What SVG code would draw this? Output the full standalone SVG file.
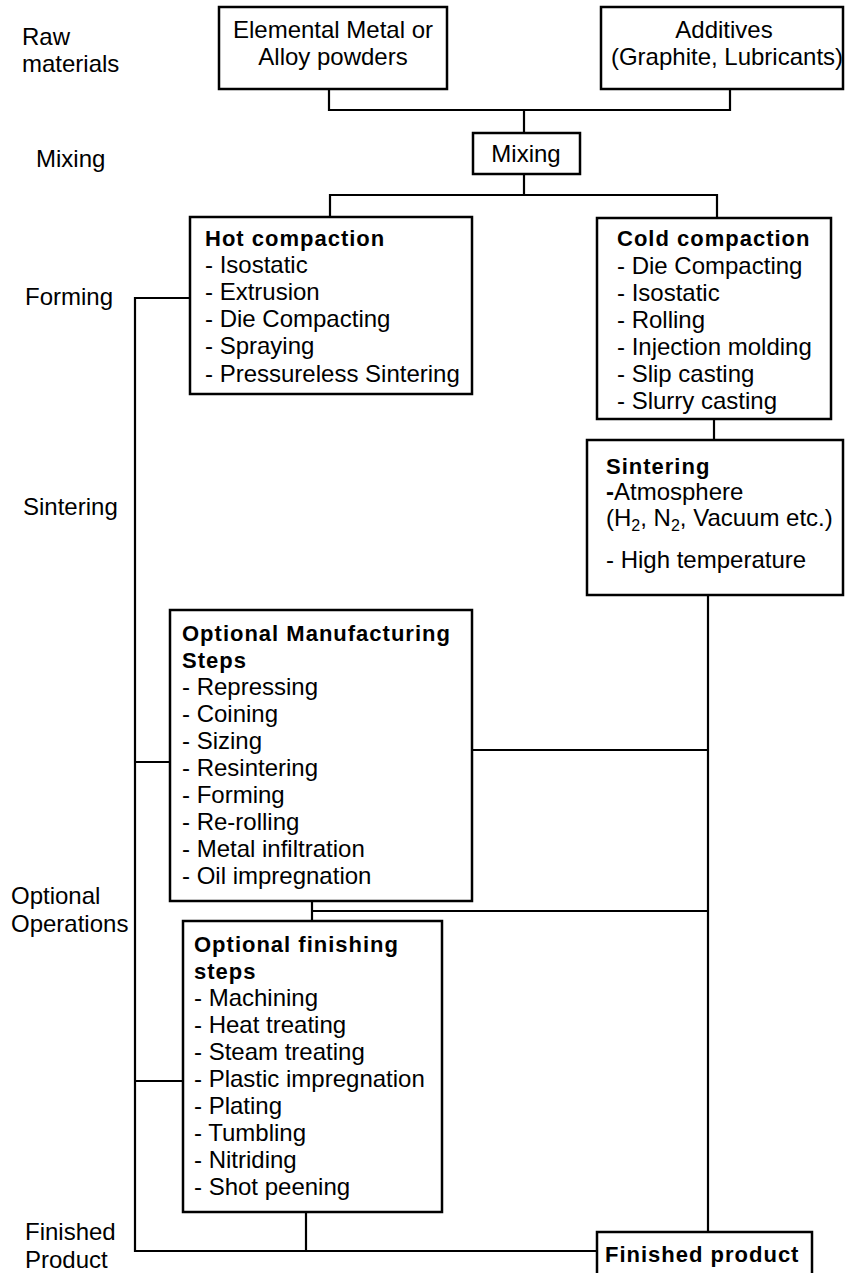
<svg xmlns="http://www.w3.org/2000/svg" width="845" height="1273" viewBox="0 0 845 1273">
<style>
text{font-family:"Liberation Sans",Arial,sans-serif;font-size:24px;fill:#000}
.b{font-weight:bold;font-size:22px;letter-spacing:1px}
.c{text-anchor:middle}
.box{fill:#fff;stroke:#000;stroke-width:2.5}
.ln{fill:none;stroke:#000;stroke-width:2.2}
</style>
<rect width="845" height="1273" fill="#fff"/>
<g id="labels">
<text x="22" y="45">Raw</text>
<text x="22" y="72">materials</text>
<text x="36" y="167">Mixing</text>
<text x="25" y="305">Forming</text>
<text x="23" y="515">Sintering</text>
<text x="11" y="904">Optional</text>
<text x="11" y="932">Operations</text>
<text x="25" y="1240">Finished</text>
<text x="25" y="1268">Product</text>
</g>
<g id="connectors">
<path class="ln" d="M329 90V110H730V90M524 110V133"/>
<path class="ln" d="M524 174V195M330 217V195H717V218"/>
<path class="ln" d="M190 298H135V1251H597M135 762H170M135 1081H183"/>
<path class="ln" d="M714 419V440"/>
<path class="ln" d="M708 595V1232M472 750H708M312 901V921M312 911H708M306 1212V1251"/>
</g>
<g id="elemental">
<rect class="box" x="219" y="7" width="228" height="82"/>
<text class="c" x="333" y="38">Elemental Metal or</text>
<text class="c" x="333" y="65">Alloy powders</text>
</g>
<g id="additives">
<rect class="box" x="601" y="7" width="242" height="82"/>
<text class="c" x="724" y="38">Additives</text>
<text class="c" x="727" y="65">(Graphite, Lubricants)</text>
</g>
<g id="mixing">
<rect class="box" x="473" y="133" width="107" height="41"/>
<text class="c" x="526" y="162">Mixing</text>
</g>
<g id="hot">
<rect class="box" x="190" y="217" width="282" height="177"/>
<text class="b" x="205" y="246">Hot compaction</text>
<text x="205" y="273">- Isostatic</text>
<text x="205" y="300">- Extrusion</text>
<text x="205" y="327">- Die Compacting</text>
<text x="205" y="354">- Spraying</text>
<text x="205" y="382">- Pressureless Sintering</text>
</g>
<g id="cold">
<rect class="box" x="597" y="218" width="234" height="201"/>
<text class="b" x="617" y="246">Cold compaction</text>
<text x="617" y="274">- Die Compacting</text>
<text x="617" y="301">- Isostatic</text>
<text x="617" y="328">- Rolling</text>
<text x="617" y="355">- Injection molding</text>
<text x="617" y="382">- Slip casting</text>
<text x="617" y="409">- Slurry casting</text>
</g>
<g id="sintering">
<rect class="box" x="587" y="440" width="256" height="155"/>
<text class="b" x="606" y="474">Sintering</text>
<text x="606" y="500"><tspan font-weight="bold">-</tspan>Atmosphere</text>
<text x="606" y="526">(H<tspan font-size="16" dy="5">2</tspan><tspan dy="-5">, N</tspan><tspan font-size="16" dy="5">2</tspan><tspan dy="-5">, Vacuum etc.)</tspan></text>
<text x="606" y="568">- High temperature</text>
</g>
<g id="manufacturing">
<rect class="box" x="170" y="610" width="302" height="291"/>
<text class="b" x="182" y="641">Optional Manufacturing</text>
<text class="b" x="182" y="668">Steps</text>
<text x="182" y="695">- Repressing</text>
<text x="182" y="722">- Coining</text>
<text x="182" y="749">- Sizing</text>
<text x="182" y="776">- Resintering</text>
<text x="182" y="803">- Forming</text>
<text x="182" y="830">- Re-rolling</text>
<text x="182" y="857">- Metal infiltration</text>
<text x="182" y="884">- Oil impregnation</text>
</g>
<g id="finishing">
<rect class="box" x="183" y="921" width="259" height="291"/>
<text class="b" x="194" y="952">Optional finishing</text>
<text class="b" x="194" y="979">steps</text>
<text x="194" y="1006">- Machining</text>
<text x="194" y="1033">- Heat treating</text>
<text x="194" y="1060">- Steam treating</text>
<text x="194" y="1087">- Plastic impregnation</text>
<text x="194" y="1114">- Plating</text>
<text x="194" y="1141">- Tumbling</text>
<text x="194" y="1168">- Nitriding</text>
<text x="194" y="1195">- Shot peening</text>
</g>
<g id="finished">
<rect class="box" x="597" y="1232" width="215" height="60"/>
<text class="b" x="605" y="1262">Finished product</text>
</g>
</svg>
